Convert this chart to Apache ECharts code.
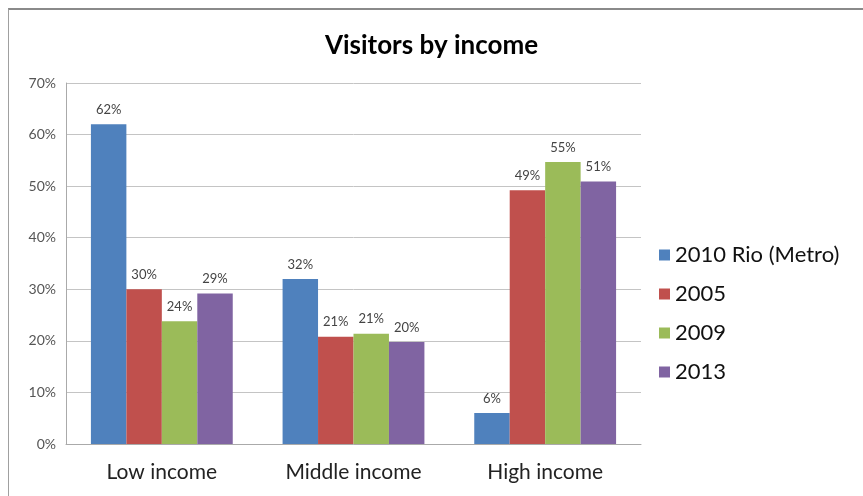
<!DOCTYPE html>
<html>
<head>
<meta charset="utf-8">
<script src="https://cdn.jsdelivr.net/npm/echarts@6/dist/echarts.min.js"></script>
<style>
html,body{margin:0;padding:0;background:#fff;}
#frame{position:absolute;left:8px;top:8px;width:870px;height:500px;border-top:2px solid #8a8a8a;border-left:1px solid #a0a0a0;}
#chart{position:absolute;left:0;top:0;width:863px;height:496px;}
</style>
</head>
<body>
<div id="frame"></div>
<div id="chart"></div>
<script>
const categories = ['Low income', 'Middle income', 'High income'];
const seriesNames = ['2010 Rio (Metro)', '2005', '2009', '2013'];
const rio2010 = [62, 32, 6];
const y2005 = [30, 20.8, 49.2];
const y2009 = [23.8, 21.4, 54.7];
const y2013 = [29.2, 19.8, 50.9];
const yTicks = [0, 10, 20, 30, 40, 50, 60, 70];
const colors = ['#4F81BD', '#C0504D', '#9BBB59', '#8064A2'];

const chart = echarts.init(document.getElementById('chart'));
const values = [rio2010, y2005, y2009, y2013];
chart.setOption({
  animation: false,
  title: {
    text: 'Visitors by income',
    left: 'center',
    top: 28,
    textStyle: {fontFamily: 'Lato', fontWeight: 'bold', fontSize: 26, color: '#000'}
  },
  legend: {
    orient: 'vertical',
    left: 654,
    top: 239,
    itemWidth: 11,
    itemHeight: 11,
    itemGap: 17,
    icon: 'rect',
    textStyle: {fontFamily: 'Lato', fontSize: 22, color: '#111'},
    data: seriesNames
  },
  grid: {left: 66, right: 222, top: 83, bottom: 52},
  xAxis: {
    type: 'category',
    data: categories,
    axisTick: {show: false},
    axisLine: {lineStyle: {color: '#aaa'}},
    axisLabel: {fontFamily: 'Lato', fontSize: 21, color: '#222', margin: 18}
  },
  yAxis: {
    type: 'value',
    min: yTicks[0],
    max: yTicks[yTicks.length - 1],
    interval: 10,
    axisLine: {show: true, lineStyle: {color: '#aaa'}},
    axisTick: {show: false},
    splitLine: {lineStyle: {color: '#c4c4c4'}},
    axisLabel: {fontFamily: 'Lato', fontSize: 14, color: '#555', margin: 10, formatter: '{value}%'}
  },
  series: seriesNames.map((n, i) => ({
    name: n,
    type: 'bar',
    data: values[i],
    barGap: '0%',
    barCategoryGap: '26%',
    itemStyle: {color: colors[i]},
    label: {
      show: true,
      position: 'top',
      distance: 8,
      fontFamily: 'Lato',
      fontSize: 13,
      color: '#444',
      formatter: p => Math.round(p.value) + '%'
    }
  }))
});
</script>
</body>
</html>
